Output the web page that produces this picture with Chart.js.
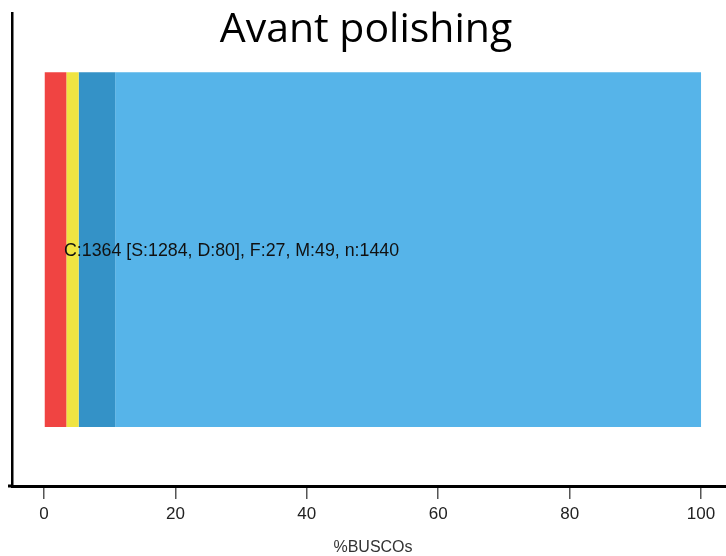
<!DOCTYPE html>
<html>
<head>
<meta charset="utf-8">
<script src="https://cdn.jsdelivr.net/npm/chart.js@4/dist/chart.umd.min.js"></script>
<style>
  html, body { margin: 0; padding: 0; background: #ffffff; }
  #wrap { width: 726px; height: 556px; position: relative; }
</style>
</head>
<body>
<div id="wrap"><canvas id="c" width="726" height="556"></canvas></div>
<script>
// BUSCO completeness summary (counts per class)
const categories = ['Avant polishing'];
const classNames = ['Missing (M)', 'Fragmented (F)', 'Complete and duplicated (D)', 'Complete and single-copy (S)'];
const countM = [49];
const countF = [27];
const countD = [80];
const countS = [1284];
const totalN = [1440];
const tickValues = [0, 20, 40, 60, 80, 100];
const axisTitle = '%BUSCOs';
const chartTitle = 'Avant polishing';

const classColors = ['#F04442', '#F0E442', '#3492C7', '#56B4E9'];
const pct = (arr) => arr.map((v, i) => v / totalN[i] * 100);

const summaryText = `C:${countS[0] + countD[0]} [S:${countS[0]}, D:${countD[0]}], F:${countF[0]}, M:${countM[0]}, n:${totalN[0]}`;

const overlayText = {
  id: 'overlayText',
  afterDraw(chart) {
    const { ctx, chartArea, scales } = chart;
    const xs = scales.x;
    ctx.save();
    // short extension of the baseline to the left of the vertical axis
    ctx.strokeStyle = '#000';
    ctx.lineWidth = 3;
    ctx.beginPath();
    ctx.moveTo(8, chartArea.bottom);
    ctx.lineTo(chartArea.left, chartArea.bottom);
    ctx.stroke();
    // summary line inside the bar
    ctx.fillStyle = '#111';
    ctx.font = '17.8px "Liberation Sans", Arial, sans-serif';
    ctx.textBaseline = 'middle';
    ctx.textAlign = 'left';
    const meta = chart.getDatasetMeta(0);
    const yMid = meta.data[0].y;
    ctx.fillText(summaryText, xs.getPixelForValue(0) + 20, yMid + 2);
    // axis title
    ctx.fillStyle = '#333';
    ctx.font = '16px "Liberation Sans", Arial, sans-serif';
    ctx.textAlign = 'center';
    ctx.fillText(axisTitle, (chartArea.left + chartArea.right) / 2 + 4, 548);
    // chart heading
    ctx.fillStyle = '#000';
    ctx.font = '41px "Open Sans", Lato, sans-serif';
    ctx.textBaseline = 'alphabetic';
    ctx.fillText(chartTitle, 366, 42);
    ctx.restore();
  }
};

const series = [countM, countF, countD, countS];
new Chart(document.getElementById('c'), {
  type: 'bar',
  data: {
    labels: categories,
    datasets: series.map((s, i) => ({
      label: classNames[i],
      data: pct(s),
      backgroundColor: classColors[i],
      borderWidth: 0,
      categoryPercentage: 1,
      barPercentage: 0.75
    }))
  },
  options: {
    indexAxis: 'y',
    responsive: false,
    animation: false,
    layout: { padding: { top: 13, left: 0, right: 0, bottom: 0 } },
    plugins: {
      legend: { display: false },
      tooltip: { enabled: false },
      title: { display: false }
    },
    scales: {
      x: {
        stacked: true,
        min: -4.87,
        max: 103.8,
        afterBuildTicks(scale) { scale.ticks = tickValues.map(v => ({ value: v })); },
        afterFit(scale) { scale.height = 70; },
        grid: { display: true, drawOnChartArea: false, drawTicks: true, tickLength: 13, color: '#555', lineWidth: 1.5 },
        border: { display: true, color: '#000', width: 3 },
        ticks: {
          color: '#222',
          padding: 5,
          maxRotation: 0,
          autoSkip: false,
          font: { family: '"Liberation Sans", Arial, sans-serif', size: 17 }
        }
      },
      y: {
        stacked: true,
        afterFit(scale) { scale.width = 12; },
        grid: { display: false, drawTicks: false },
        border: { display: true, color: '#000', width: 2.5 },
        ticks: { display: false }
      }
    }
  },
  plugins: [overlayText]
});
</script>
</body>
</html>
